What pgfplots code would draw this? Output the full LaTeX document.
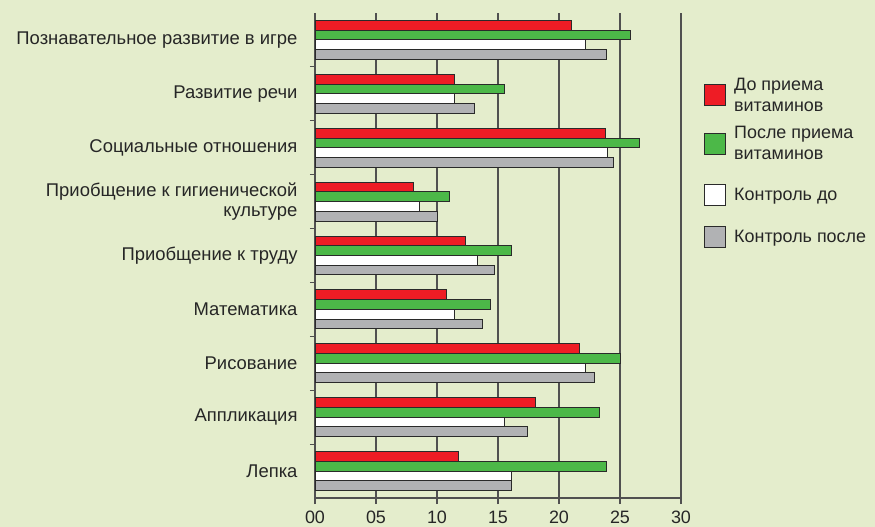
\documentclass[border=0pt]{standalone}
\usepackage{pgfplots}
\pgfplotsset{compat=1.18}
\usepackage{fontspec}
\setmainfont{Liberation Sans}
\definecolor{bg}{HTML}{E4EDCC}
\definecolor{cred}{HTML}{EE1C25}
\definecolor{cgreen}{HTML}{4CB848}
\definecolor{cgray}{HTML}{B1B2B4}
\definecolor{gridc}{HTML}{505050}
\definecolor{outl}{HTML}{2A2A2A}
\definecolor{txt}{HTML}{262626}
\pgfplotsset{
  sqA/.style={legend image code/.code={\draw[##1,/tikz/.cd,draw=outl,line width=1bp] (0bp,-10.5bp) rectangle (21bp,10.5bp); \path[draw=none,fill=none] (0bp,-16bp) -- (0bp,22bp);}},
  sqB/.style={legend image code/.code={\draw[##1,/tikz/.cd,draw=outl,line width=1bp] (0bp,-10.5bp) rectangle (21bp,10.5bp); \path[draw=none,fill=none] (0bp,-16bp) -- (0bp,16bp);}},
}
\begin{document}
\begin{tikzpicture}
\fill[bg] (0bp,0bp) rectangle (875bp,527bp);
\begin{axis}[
  at={(315bp,29bp)}, anchor=south west,
  scale only axis, width=366bp, height=485bp,
  xmin=0, xmax=30, ymin=-0.5, ymax=8.5,
  xbar, bar width=0.18,
  axis x line*=bottom, axis y line*=left,
  axis line style={gridc, line width=1.2bp, -},
  xtick={0,5,...,30}, xticklabels={00,05,10,15,20,25,30},
  xmajorgrids, major grid style={gridc, line width=1.2bp},
  tick align=outside, major tick length=6bp, minor tick length=5bp,
  tick style={gridc, line width=1.2bp},
  ytick={0,...,8},
  minor ytick={0.5,1.5,...,7.5},
  every major y tick/.append style={draw=none},
  yticklabels={Лепка,Аппликация,Рисование,Математика,Приобщение к труду,{Приобщение к гигиенической\\культуре},Социальные отношения,Развитие речи,Познавательное развитие в игре},
  y tick label style={font=\fontsize{18.5}{20}\selectfont, text=txt, align=right, anchor=east, xshift=-8bp},
  x tick label style={font=\fontsize{18}{20}\selectfont, text=txt, yshift=-3.5bp},
  /pgf/number format/assume math mode=true,
  legend image code/.code={\draw[#1,/tikz/.cd,draw=outl,line width=1bp] (0bp,-10.5bp) rectangle (21bp,10.5bp);},
  legend style={at={(1.0628,0.871)}, anchor=north west, draw=none, fill=none, inner sep=0pt,
    font=\fontsize{18}{21}\selectfont, text=txt, cells={align=left, anchor=west}, row sep=10bp,
    /tikz/every odd column/.append style={column sep=6bp}},
  legend cell align=left,
]
\addplot[fill=cred, draw=outl, line width=1bp, bar shift=0.27] coordinates {(21.0,8) (11.4,7) (23.8,6) (8.1,5) (12.3,4) (10.8,3) (21.7,2) (18.1,1) (11.8,0)};
\addplot[fill=cgreen, draw=outl, line width=1bp, bar shift=0.09] coordinates {(25.9,8) (15.5,7) (26.6,6) (11.0,5) (16.1,4) (14.4,3) (25.0,2) (23.3,1) (23.9,0)};
\addplot[fill=white, draw=outl, line width=1bp, bar shift=-0.09, sqA] coordinates {(22.2,8) (11.4,7) (24.0,6) (8.6,5) (13.3,4) (11.4,3) (22.2,2) (15.5,1) (16.1,0)};
\addplot[fill=cgray, draw=outl, line width=1bp, bar shift=-0.27, sqB] coordinates {(23.9,8) (13.1,7) (24.5,6) (10.0,5) (14.7,4) (13.7,3) (22.9,2) (17.4,1) (16.1,0)};
\legend{{До приема\\витаминов},{После приема\\витаминов},Контроль до,Контроль после}
\end{axis}
\pgfresetboundingbox
\useasboundingbox (0bp,0bp) rectangle (875bp,527bp);
\end{tikzpicture}
\end{document}
